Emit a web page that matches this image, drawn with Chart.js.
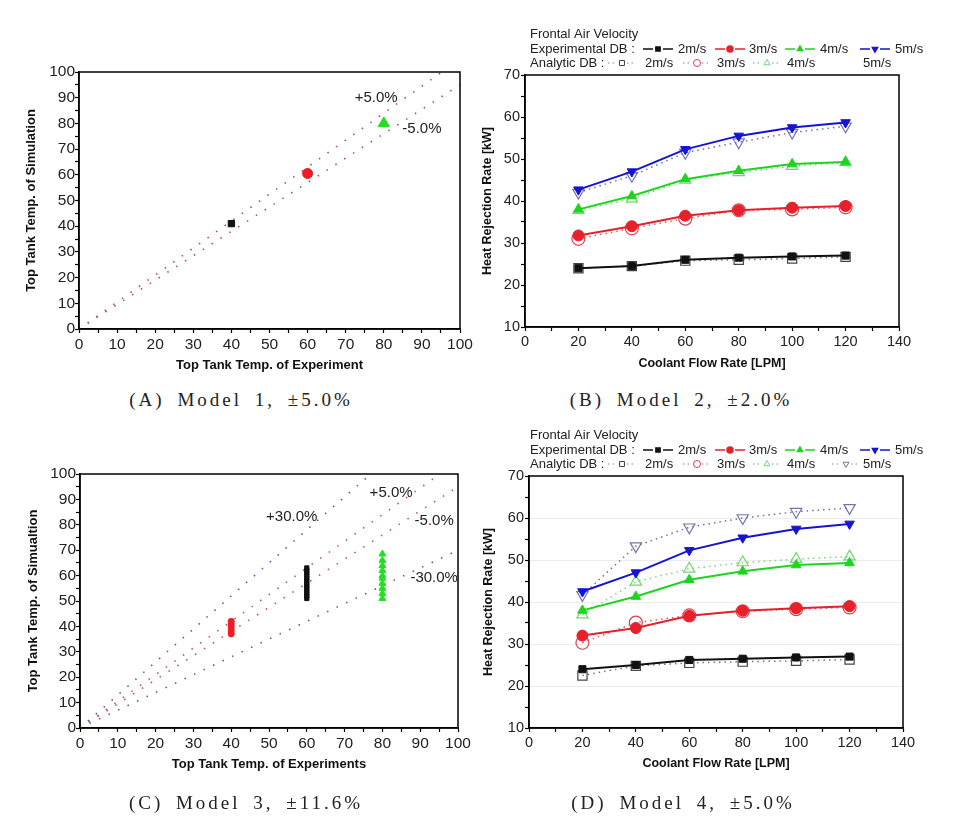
<!DOCTYPE html>
<html>
<head>
<meta charset="utf-8">
<script src="https://cdn.jsdelivr.net/npm/chart.js@4/dist/chart.umd.min.js"></script>
<style>
body { margin: 0; background: #fff; width: 956px; height: 832px; position: relative; overflow: hidden; }
canvas { position: absolute; }
.cap { position: absolute; width: 478px; text-align: center; font-family: "Liberation Serif", serif; font-size: 19px; line-height: 20px; letter-spacing: 3px; word-spacing: 5px; color: #222; }
</style>
</head>
<body>
<canvas id="graficoA" width="478" height="380" style="left:0;top:0"></canvas>
<canvas id="graficoB" width="478" height="380" style="left:478px;top:0"></canvas>
<canvas id="graficoC" width="478" height="380" style="left:0;top:420px"></canvas>
<canvas id="graficoD" width="478" height="380" style="left:478px;top:420px"></canvas>
<div class="cap" style="left:2px;top:390px">(A) Model 1, ±5.0%</div>
<div class="cap" style="left:442px;top:390px">(B) Model 2, ±2.0%</div>
<div class="cap" style="left:7px;top:793px">(C) Model 3, ±11.6%</div>
<div class="cap" style="left:444px;top:793px">(D) Model 4, ±5.0%</div>
<script>
// ---- datos ----
const refX = [0, 100];
const refPlus5 = [0, 105];
const refMinus5 = [0, 95];
const refPlus30 = [0, 130];
const refMinus30 = [0, 70];

// Model 1: experiment vs simulation
const m1Exp = [40, 60, 80];
const m1Sim = [41, 60.5, 80];

// Model 3: one column of points per experiment temperature
const m3RedSim = [37, 38, 39, 40, 41, 42];
const m3BlackSim = [51, 52, 53, 54, 55, 56, 57, 58, 59, 60, 61, 62, 63];
const m3GreenSim = [51, 53, 55, 57, 59, 60, 62, 64, 66, 68.5];

const flowRate = [20, 40, 60, 80, 100, 120];
const velocidades = ['2m/s', '3m/s', '4m/s', '5m/s'];

// Model 2
const m2Exp2 = [24, 24.5, 26, 26.5, 26.8, 27];
const m2Exp3 = [31.8, 34, 36.5, 37.8, 38.4, 38.8];
const m2Exp4 = [38, 41.2, 45.2, 47.2, 48.8, 49.3];
const m2Exp5 = [42.7, 47, 52.3, 55.5, 57.5, 58.7];
const m2Ana2 = [24, 24.5, 25.8, 26, 26.3, 26.7];
const m2Ana3 = [31, 33.5, 35.8, 37.8, 38, 38.5];
const m2Ana4 = [37.8, 40.5, 45, 46.8, 48.3, 49.2];
const m2Ana5 = [42, 46, 51.5, 54, 56.3, 57.8];

// Model 4
const m4Exp2 = [24, 25, 26.2, 26.5, 26.8, 27];
const m4Exp3 = [32, 33.8, 36.7, 37.9, 38.5, 39];
const m4Exp4 = [38, 41.3, 45.3, 47.3, 48.8, 49.3];
const m4Exp5 = [42.5, 47, 52.3, 55.3, 57.4, 58.6];
const m4Ana2 = [22.5, 24.8, 25.5, 25.8, 26, 26.3];
const m4Ana3 = [30.3, 35.1, 36.8, 37.8, 38.3, 38.7];
const m4Ana4 = [37, 44.8, 47.9, 49.4, 50.2, 50.8];
const m4Ana5 = [41.7, 53.3, 57.8, 60, 61.5, 62.4];

// ---- colores ----
const colExp = ['#111111', '#e8202a', '#1ed41e', '#1414d2'];
const colAna = ['#444444', '#d8404e', '#70d870', '#7474aa'];
const colAnaLine = ['#777777', '#d06070', '#80d080', '#7070a0'];
const estilos = ['rect', 'circle', 'triangle', 'triangle'];
const rotaciones = [0, 0, 0, 180];

const fuente = '"Liberation Sans", Arial, sans-serif';

function serie(xs, ys) {
    return xs.map((x, i) => ({ x: x, y: ys[i] }));
}

function columna(x, ys) {
    return ys.map(y => ({ x: x, y: y }));
}

// marco alrededor del area del grafico
const marcoPlugin = {
    id: 'marco',
    afterDraw(chart) {
        const a = chart.chartArea;
        const ctx = chart.ctx;
        ctx.save();
        ctx.strokeStyle = '#000';
        ctx.lineWidth = 1.5;
        ctx.strokeRect(a.left, a.top, a.right - a.left, a.bottom - a.top);
        ctx.restore();
    }
};

// textos sobre las lineas de referencia
function textosPlugin(textos) {
    return {
        id: 'textos',
        afterDraw(chart) {
            const ctx = chart.ctx;
            ctx.save();
            ctx.font = '15px ' + fuente;
            ctx.fillStyle = '#222';
            ctx.textAlign = 'center';
            ctx.textBaseline = 'middle';
            textos.forEach(t => {
                ctx.fillText(t.text, chart.scales.x.getPixelForValue(t.x), chart.scales.y.getPixelForValue(t.y));
            });
            ctx.restore();
        }
    };
}

// leyenda de texto arriba de los graficos B y D
function leyendaPlugin(y0, sinUltimaMuestra) {
    return {
        id: 'leyenda',
        afterDraw(chart) {
            const ctx = chart.ctx;
            ctx.save();
            ctx.font = '13px ' + fuente;
            ctx.fillStyle = '#222';
            ctx.textBaseline = 'middle';
            ctx.fillText('Frontal Air Velocity', 52, y0);
            ctx.fillText('Experimental DB :', 52, y0 + 15);
            ctx.fillText('Analytic DB :', 52, y0 + 29);

            const expMuestra = [165, 237, 307, 382];
            const expTexto = [200, 271, 342, 417];
            const anaMuestra = [130, 205, 275, 354];
            const anaTexto = [167, 239, 309, 385];

            for (let i = 0; i < 4; i++) {
                // experimental
                let y = y0 + 15;
                ctx.strokeStyle = colExp[i];
                ctx.lineWidth = 1.5;
                ctx.setLineDash([]);
                ctx.beginPath();
                ctx.moveTo(expMuestra[i], y);
                ctx.lineTo(expMuestra[i] + 10, y);
                ctx.moveTo(expMuestra[i] + 20, y);
                ctx.lineTo(expMuestra[i] + 30, y);
                ctx.stroke();
                ctx.fillStyle = colExp[i];
                Chart.helpers.drawPoint(ctx, { pointStyle: estilos[i], rotation: rotaciones[i], radius: 3, borderWidth: 1 }, expMuestra[i] + 15, y);
                ctx.fillStyle = '#222';
                ctx.fillText(velocidades[i], expTexto[i], y);

                // analitico
                y = y0 + 29;
                if (!(sinUltimaMuestra && i === 3)) {
                    ctx.strokeStyle = '#888';
                    ctx.lineWidth = 1;
                    ctx.setLineDash([1.5, 3]);
                    ctx.beginPath();
                    ctx.moveTo(anaMuestra[i], y);
                    ctx.lineTo(anaMuestra[i] + 9, y);
                    ctx.moveTo(anaMuestra[i] + 19, y);
                    ctx.lineTo(anaMuestra[i] + 28, y);
                    ctx.stroke();
                    ctx.setLineDash([]);
                    ctx.strokeStyle = colAna[i];
                    ctx.fillStyle = '#fff';
                    Chart.helpers.drawPoint(ctx, { pointStyle: estilos[i], rotation: rotaciones[i], radius: 3.5, borderWidth: 1 }, anaMuestra[i] + 14, y);
                }
                ctx.fillStyle = '#222';
                ctx.fillText(velocidades[i], anaTexto[i], y);
            }
            ctx.restore();
        }
    };
}

function lineaRef(ys, color) {
    return {
        data: serie(refX, ys),
        showLine: true,
        borderColor: color,
        borderWidth: 1.6,
        borderDash: [1.5, 9],
        pointRadius: 0,
        order: 5
    };
}

function ejesParidad(cfg) {
    return {
        x: {
            type: 'linear', min: 0, max: 100,
            afterFit: s => { s.height = cfg.altoX; },
            ticks: { stepSize: 5, autoSkip: false, maxRotation: 0, padding: 2, color: '#222', font: { family: fuente, size: 15.5 },
                callback: v => v % 10 === 0 ? v : '' },
            grid: { drawOnChartArea: false, tickLength: 4, tickColor: '#000', tickWidth: 1.2 },
            border: { color: '#000', width: 1.5 },
            title: { display: true, text: cfg.tituloX, color: '#111', font: { family: fuente, size: 13, weight: 'bold' }, padding: { top: 0, bottom: cfg.padX } }
        },
        y: {
            type: 'linear', min: 0, max: 100,
            afterFit: s => { s.width = cfg.anchoY; },
            ticks: { stepSize: 5, autoSkip: false, padding: 0, color: '#222', font: { family: fuente, size: 15.5 },
                callback: v => v % 10 === 0 ? v : '' },
            grid: { drawOnChartArea: false, tickLength: 4, tickColor: '#000', tickWidth: 1.2 },
            border: { color: '#000', width: 1.5 },
            title: { display: true, text: cfg.tituloY, color: '#111', font: { family: fuente, size: 13, weight: 'bold' }, padding: { top: cfg.padY, bottom: 0 } }
        }
    };
}

function ejesCalor(cfg) {
    return {
        x: {
            type: 'linear', min: 0, max: 140,
            afterFit: s => { s.height = cfg.altoX; },
            ticks: { stepSize: 10, autoSkip: false, maxRotation: 0, padding: 2, color: '#222', font: { family: fuente, size: 14.5 },
                callback: v => v % 20 === 0 ? v : '' },
            grid: { drawOnChartArea: false, tickLength: 4, tickColor: '#000', tickWidth: 1.2 },
            border: { color: '#000', width: 1.5 },
            title: { display: true, text: 'Coolant Flow Rate [LPM]', color: '#111', font: { family: fuente, size: 12.5, weight: 'bold' }, padding: { top: 0, bottom: cfg.padX } }
        },
        y: {
            type: 'linear', min: 10, max: 70,
            afterFit: s => { s.width = cfg.anchoY; },
            ticks: { stepSize: 5, autoSkip: false, padding: 1, color: '#222', font: { family: fuente, size: 14.5 },
                callback: v => v % 10 === 0 ? v : '' },
            grid: { drawOnChartArea: cfg.rejilla, color: c => (c.tick && c.tick.value % 10 === 0) ? '#ececec' : 'rgba(0,0,0,0)', tickLength: 4, tickColor: '#000', tickWidth: 1.2 },
            border: { color: '#000', width: 1.5 },
            title: { display: true, text: 'Heat Rejection Rate [kW]', color: '#111', font: { family: fuente, size: 12.5, weight: 'bold' }, padding: { top: cfg.padY, bottom: 0 } }
        }
    };
}

function datosCalor(exp, ana) {
    const ds = [];
    for (let i = 0; i < 4; i++) {
        ds.push({
            label: 'Analytic ' + velocidades[i],
            data: serie(flowRate, ana[i]),
            borderColor: colAnaLine[i],
            borderWidth: 1.5,
            borderDash: [1.5, 4],
            pointStyle: estilos[i],
            rotation: rotaciones[i],
            pointRadius: 6.5,
            pointBorderWidth: 1.2,
            pointBorderColor: colAna[i],
            pointBackgroundColor: 'rgba(255,255,255,0)',
            order: 2
        });
    }
    for (let i = 0; i < 4; i++) {
        ds.push({
            label: 'Experimental ' + velocidades[i],
            data: serie(flowRate, exp[i]),
            borderColor: colExp[i],
            backgroundColor: colExp[i],
            borderWidth: 2,
            pointStyle: estilos[i],
            rotation: rotaciones[i],
            pointRadius: i === 0 ? 5 : 5.5,
            pointBorderWidth: 1,
            order: 1
        });
    }
    return ds;
}

const basePlugins = { legend: { display: false }, tooltip: { enabled: false } };

// ---- (A) ----
new Chart(document.getElementById('graficoA'), {
    type: 'scatter',
    data: {
        datasets: [
            lineaRef(refPlus5, '#b04a6a'),
            lineaRef(refMinus5, '#b04a6a'),
            { data: [{ x: m1Exp[0], y: m1Sim[0] }], pointStyle: 'rect', pointRadius: 4.5, backgroundColor: '#111', borderColor: '#111' },
            { data: [{ x: m1Exp[1], y: m1Sim[1] }], pointStyle: 'circle', pointRadius: 5, backgroundColor: '#ee1c24', borderColor: '#ee1c24' },
            { data: [{ x: m1Exp[2], y: m1Sim[2] }], pointStyle: 'triangle', pointRadius: 6.5, backgroundColor: '#22dd22', borderColor: '#22dd22' }
        ]
    },
    options: {
        responsive: false, animation: false,
        layout: { padding: { top: 72, right: 18, left: 0, bottom: 0 } },
        plugins: basePlugins,
        scales: ejesParidad({ altoX: 51, anchoY: 79, padX: 7, padY: 24,
            tituloX: 'Top Tank Temp. of Experiment', tituloY: 'Top Tank Temp. of Simulation' })
    },
    plugins: [marcoPlugin, textosPlugin([
        { text: '+5.0%', x: 78, y: 90 },
        { text: '-5.0%', x: 90, y: 78 }
    ])]
});

// ---- (B) ----
new Chart(document.getElementById('graficoB'), {
    type: 'line',
    data: { datasets: datosCalor([m2Exp2, m2Exp3, m2Exp4, m2Exp5], [m2Ana2, m2Ana3, m2Ana4, m2Ana5]) },
    options: {
        responsive: false, animation: false,
        layout: { padding: { top: 75, right: 57, left: 0, bottom: 0 } },
        plugins: basePlugins,
        scales: ejesCalor({ altoX: 53, anchoY: 47, padX: 9, padY: 2, rejilla: false })
    },
    plugins: [marcoPlugin, leyendaPlugin(34, true)]
});

// ---- (C) ----
new Chart(document.getElementById('graficoC'), {
    type: 'scatter',
    data: {
        datasets: [
            lineaRef(refPlus30, '#5a5aa0'),
            lineaRef(refPlus5, '#c05070'),
            lineaRef(refMinus5, '#c05070'),
            lineaRef(refMinus30, '#5a5aa0'),
            { data: columna(40, m3RedSim), pointStyle: 'circle', pointRadius: 3, backgroundColor: '#ee1c24', borderColor: '#ee1c24' },
            { data: columna(60, m3BlackSim), pointStyle: 'rect', pointRadius: 3, backgroundColor: '#111', borderColor: '#111' },
            { data: columna(80, m3GreenSim), pointStyle: 'triangle', pointRadius: 4, backgroundColor: '#22e022', borderColor: '#22e022' }
        ]
    },
    options: {
        responsive: false, animation: false,
        layout: { padding: { top: 54, right: 20, left: 0, bottom: 0 } },
        plugins: basePlugins,
        scales: ejesParidad({ altoX: 72, anchoY: 80, padX: 28, padY: 26,
            tituloX: 'Top Tank Temp. of Experiments', tituloY: 'Top Tank Temp. of Simualtion' })
    },
    plugins: [marcoPlugin, textosPlugin([
        { text: '+30.0%', x: 56, y: 83 },
        { text: '+5.0%', x: 82.3, y: 92.5 },
        { text: '-5.0%', x: 93.7, y: 81.5 },
        { text: '-30.0%', x: 93.7, y: 59 }
    ])]
});

// ---- (D) ----
new Chart(document.getElementById('graficoD'), {
    type: 'line',
    data: { datasets: datosCalor([m4Exp2, m4Exp3, m4Exp4, m4Exp5], [m4Ana2, m4Ana3, m4Ana4, m4Ana5]) },
    options: {
        responsive: false, animation: false,
        layout: { padding: { top: 56, right: 53, left: 0, bottom: 0 } },
        plugins: basePlugins,
        scales: ejesCalor({ altoX: 72, anchoY: 51, padX: 29, padY: 3, rejilla: true })
    },
    plugins: [marcoPlugin, leyendaPlugin(15, false)]
});
</script>
</body>
</html>
